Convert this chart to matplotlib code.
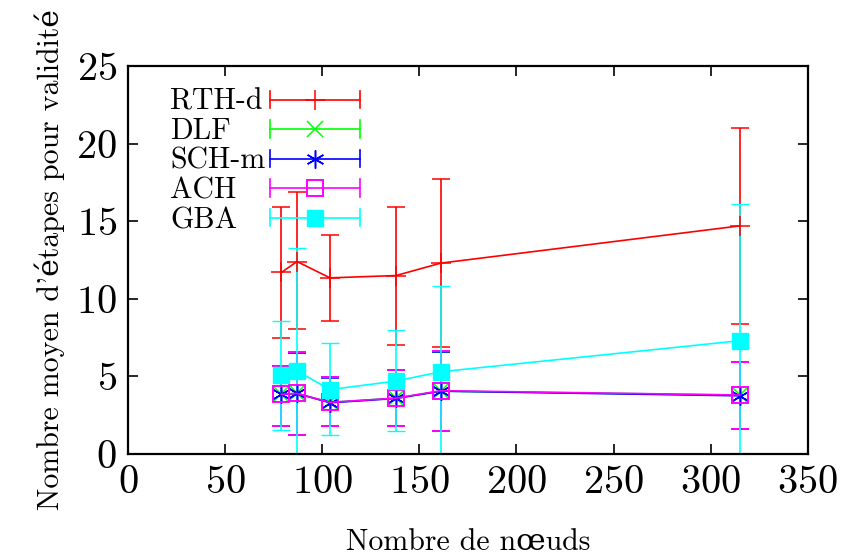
import matplotlib
matplotlib.use("Agg")
import matplotlib.pyplot as plt
from matplotlib.legend_handler import HandlerBase
from matplotlib.lines import Line2D
import numpy as np

plt.rcParams['font.family'] = ['cmr10', 'DejaVu Serif']
plt.rcParams['mathtext.fontset'] = 'cm'
plt.rcParams['axes.formatter.use_mathtext'] = True

x = [79, 87, 104, 138, 161, 315]

rth_y = [11.7, 12.4, 11.35, 11.5, 12.3, 14.7]
rth_lo = [7.45, 8.05, 8.6, 7.05, 6.9, 8.4]
rth_hi = [15.9, 16.9, 14.1, 15.9, 17.7, 21.0]

dlf_y = [3.85, 3.9, 3.33, 3.6, 4.05, 3.8]
dlf_lo = [1.8, 1.2, 1.8, 1.8, 1.5, 1.6]
dlf_hi = [5.7, 6.5, 4.95, 5.4, 6.6, 5.9]

sch_y = [3.85, 3.9, 3.3, 3.58, 4.05, 3.75]
sch_lo = [1.8, 1.2, 1.8, 1.8, 1.5, 1.6]
sch_hi = [5.7, 6.5, 4.9, 5.4, 6.6, 5.9]

ach_y = [3.85, 3.9, 3.33, 3.6, 4.08, 3.8]
ach_lo = [1.8, 1.2, 1.8, 1.8, 1.48, 1.6]
ach_hi = [5.7, 6.55, 4.95, 5.4, 6.65, 5.95]

gba_y = [5.1, 5.35, 4.15, 4.7, 5.3, 7.3]
gba_lo = [1.55, -2.5, 1.2, 1.45, -0.5, -1.5]
gba_hi = [8.6, 13.25, 7.15, 8.0, 10.8, 16.1]

series = [
    ("RTH-d", rth_y, rth_lo, rth_hi, "#ff0000", "+", 14, "none", 1.1),
    ("DLF", dlf_y, dlf_lo, dlf_hi, "#00ff00", "x", 11, "none", 1.1),
    ("SCH-m", sch_y, sch_lo, sch_hi, "#0000ff", (6, 2, 0), 13, "none", 1.1),
    ("ACH", ach_y, ach_lo, ach_hi, "#ff00ff", "s", 11, "none", 1.4),
    ("GBA", gba_y, gba_lo, gba_hi, "#00ffff", "s", 12, "#00ffff", 1.0),
]


class HErrHandler(HandlerBase):
    def __init__(self, color, marker, ms, mfc, mew):
        super().__init__()
        self.c, self.m, self.ms, self.mfc, self.mew = color, marker, ms, mfc, mew

    def create_artists(self, legend, orig_handle, xdescent, ydescent, width, height, fontsize, trans):
        yc = height / 2 - ydescent
        x0, x1 = -xdescent, width - xdescent
        h = 0.42 * height
        arts = [
            Line2D([x0, x1], [yc, yc], color=self.c, lw=1.2),
            Line2D([x0, x0], [yc - h, yc + h], color=self.c, lw=1.2),
            Line2D([x1, x1], [yc - h, yc + h], color=self.c, lw=1.2),
            Line2D([(x0 + x1) / 2], [yc], color=self.c, marker=self.m, ms=self.ms,
                   mfc=self.mfc, mec=self.c, mew=self.mew, ls="none"),
        ]
        for a in arts:
            a.set_transform(trans)
        return arts


class NoHandle(HandlerBase):
    def create_artists(self, legend, orig_handle, xdescent, ydescent, width, height, fontsize, trans):
        a = Line2D([], [], visible=False)
        a.set_transform(trans)
        return [a]


fig = plt.figure(figsize=(8.45, 5.55), dpi=100)
ax = fig.add_axes([0.1515, 0.182, 0.8045, 0.699])

handles, labels, hmap, tmap = [], [], {}, {}
for name, y, lo, hi, c, m, ms, mfc, mew in series:
    y = np.array(y); lo = np.array(lo); hi = np.array(hi)
    ax.errorbar(x, y, yerr=[y - lo, hi - y], color=c, lw=1.2, elinewidth=1.2,
                capsize=6.5, capthick=1.2, marker=m, ms=ms, mfc=mfc, mec=c, mew=mew)
    h = Line2D([], [], color=c)
    handles.append(h); labels.append(name)
    hmap[h] = HErrHandler(c, m, ms, mfc, mew)
    tmap[h] = NoHandle()

ax.set_xlim(0, 350)
ax.set_ylim(0, 25)
ax.set_xticks(np.arange(0, 351, 50))
ax.set_yticks(np.arange(0, 26, 5))
ax.tick_params(direction="in", top=True, right=True, length=7, width=1.2, labelsize=29, pad=8)
for s in ax.spines.values():
    s.set_linewidth(1.6)

ax.set_xlabel("Nombre de nœuds", fontsize=21.5, labelpad=20)
ax.set_ylabel("Nombre moyen d'étapes pour validité", fontsize=21.5, labelpad=8)

common = dict(frameon=False, fontsize=21.5, labelspacing=0.07, borderpad=0.0,
              borderaxespad=0.0, loc="upper left")
leg_text = ax.legend(handles, labels, handler_map=tmap, handlelength=0, handletextpad=0,
                     bbox_to_anchor=(0.062, 0.942), **common)
ax.add_artist(leg_text)
leg_h = ax.legend(handles, [" "] * len(handles), handler_map=hmap, handlelength=3.0,
                  handletextpad=0, bbox_to_anchor=(0.209, 0.942), **common)

fig.savefig("out.png", dpi=100)
